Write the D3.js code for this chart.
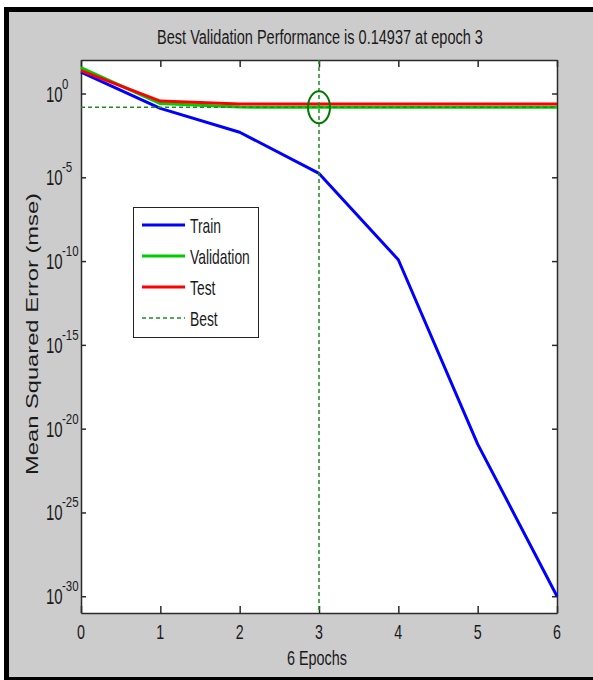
<!DOCTYPE html>
<html>
<head>
<meta charset="utf-8">
<script src="https://cdn.jsdelivr.net/npm/d3@7"></script>
<style>
  html, body { margin: 0; padding: 0; background: #fff; }
  text { font-family: "Liberation Sans", Arial, sans-serif; fill: #1a1a1a; }
</style>
</head>
<body>
<div id="chart"></div>
<script>
// values
const epochs = [0, 1, 2, 3, 4, 5, 6];
const trainMse = [19, 0.13, 4.9e-3, 1.7e-5, 1.2e-10, 1.2e-21, 1e-30];
const validationMse = [35, 0.25, 0.155, 0.14937, 0.152, 0.153, 0.153];
const testMse = [23, 0.355, 0.235, 0.235, 0.235, 0.235, 0.235];
const yTickExponents = [0, -5, -10, -15, -20, -25, -30];
const xTickLabels = ['0', '1', '2', '3', '4', '5', '6'];
const legendLabels = ['Train', 'Validation', 'Test', 'Best'];
const bestEpoch = 3;
const bestPerf = 0.14937;
const titleText = 'Best Validation Performance is 0.14937 at epoch 3';

const W = 593, H = 680;
const plot = {left: 81, right: 557, top: 60, bottom: 613};

const svg = d3.select('#chart').append('svg')
  .attr('width', W).attr('height', H);

// figure frame: white edge, black border, grey figure
svg.append('rect').attr('x', 4).attr('y', 7).attr('width', W - 4).attr('height', H - 7).attr('fill', '#000');
svg.append('rect').attr('x', 9).attr('y', 12).attr('width', W - 9).attr('height', 677 - 12).attr('fill', '#cccccc');

// text is drawn narrow, like the squeezed screenshot
function squeezed(parent, x, y, str, size, anchor, sx) {
  return parent.append('text')
    .attr('font-size', size)
    .attr('text-anchor', anchor)
    .attr('transform', `translate(${x},${y}) scale(${sx},1)`)
    .text(str);
}
function fitWidth(sel, x, y, target) {
  const len = sel.node().getComputedTextLength();
  sel.attr('transform', `translate(${x},${y}) scale(${target / len},1)`);
}

const x = d3.scaleLinear().domain([0, 6]).range([plot.left, plot.right]);
const y = d3.scaleLog().domain([1e-31, 1e2]).range([plot.bottom, plot.top]);

svg.append('rect')
  .attr('x', plot.left).attr('y', plot.top)
  .attr('width', plot.right - plot.left).attr('height', plot.bottom - plot.top)
  .attr('fill', '#fff');

const yTicks = yTickExponents.map(e => Math.pow(10, e));
const axisColor = '#2b2b2b';

function styleAxis(g) {
  g.select('.domain').attr('stroke', axisColor).attr('stroke-width', 1.5);
  g.selectAll('.tick line').attr('stroke', axisColor).attr('stroke-width', 1.5);
  g.selectAll('.tick text').remove();
}

svg.append('g').attr('transform', `translate(0,${plot.bottom})`)
  .call(d3.axisBottom(x).tickValues(epochs).tickSizeInner(-7).tickSizeOuter(0).tickFormat(''))
  .call(styleAxis);
svg.append('g').attr('transform', `translate(0,${plot.top})`)
  .call(d3.axisTop(x).tickValues(epochs).tickSizeInner(-7).tickSizeOuter(0).tickFormat(''))
  .call(styleAxis);
svg.append('g').attr('transform', `translate(${plot.left},0)`)
  .call(d3.axisLeft(y).tickValues(yTicks).tickSizeInner(-5).tickSizeOuter(0).tickFormat(''))
  .call(styleAxis);
svg.append('g').attr('transform', `translate(${plot.right},0)`)
  .call(d3.axisRight(y).tickValues(yTicks).tickSizeInner(-5).tickSizeOuter(0).tickFormat(''))
  .call(styleAxis);

// tick labels
epochs.forEach((e, i) => {
  squeezed(svg, x(e), 639, xTickLabels[i], 21, 'middle', 0.68);
});
yTickExponents.forEach(e => {
  const yy = y(Math.pow(10, e));
  squeezed(svg, 46, yy + 8, '10', 22, 'start', 0.68);
  squeezed(svg, 62, yy - 5, String(e), 14, 'start', 0.82);
});

// data lines
const line = d3.line()
  .x((d, i) => x(epochs[i]))
  .y(d => y(d));

const series = [
  {values: trainMse, color: '#0000ff'},
  {values: validationMse, color: '#00cc00'},
  {values: testMse, color: '#ff0000'}
];
series.forEach(s => {
  svg.append('path')
    .datum(s.values)
    .attr('fill', 'none')
    .attr('stroke', s.color)
    .attr('stroke-width', 3)
    .attr('stroke-linejoin', 'round')
    .attr('d', line);
});

// best markers
const bestColor = '#1e8c1e';
svg.append('line')
  .attr('x1', x(bestEpoch)).attr('x2', x(bestEpoch))
  .attr('y1', plot.top).attr('y2', plot.bottom)
  .attr('stroke', bestColor).attr('stroke-width', 1.5).attr('stroke-dasharray', '4,3');
svg.append('line')
  .attr('x1', plot.left).attr('x2', plot.right)
  .attr('y1', y(bestPerf)).attr('y2', y(bestPerf))
  .attr('stroke', bestColor).attr('stroke-width', 1.5).attr('stroke-dasharray', '4,3');
svg.append('ellipse')
  .attr('cx', x(bestEpoch)).attr('cy', y(bestPerf))
  .attr('rx', 11).attr('ry', 16)
  .attr('fill', 'none').attr('stroke', '#007a00').attr('stroke-width', 2);

// legend
const legend = svg.append('g');
legend.append('rect')
  .attr('x', 133.5).attr('y', 207.5).attr('width', 125).attr('height', 130)
  .attr('fill', '#fff').attr('stroke', '#222').attr('stroke-width', 1);
const legendColors = ['#0000ff', '#00cc00', '#ff0000', bestColor];
legendLabels.forEach((lab, i) => {
  const ly = 225 + i * 31;
  legend.append('line')
    .attr('x1', 142).attr('x2', 185).attr('y1', ly).attr('y2', ly)
    .attr('stroke', legendColors[i])
    .attr('stroke-width', i === 3 ? 1.5 : 3)
    .attr('stroke-dasharray', i === 3 ? '4,3' : null);
  squeezed(legend, 190, ly + 8, lab, 21, 'start', 0.66);
});

// title and axis labels
const title = squeezed(svg, 320, 44, titleText, 21, 'middle', 1);
fitWidth(title, 320, 44, 326);

const xlab = squeezed(svg, 317, 665, '6 Epochs', 21, 'middle', 1);
fitWidth(xlab, 317, 665, 60);

const ylab = svg.append('text')
  .attr('font-size', 23)
  .attr('text-anchor', 'middle')
  .text('Mean Squared Error  (mse)');
const ylen = ylab.node().getComputedTextLength();
ylab.attr('transform', `translate(38,334) rotate(-90) scale(${282 / ylen},0.68)`);
</script>
</body>
</html>
